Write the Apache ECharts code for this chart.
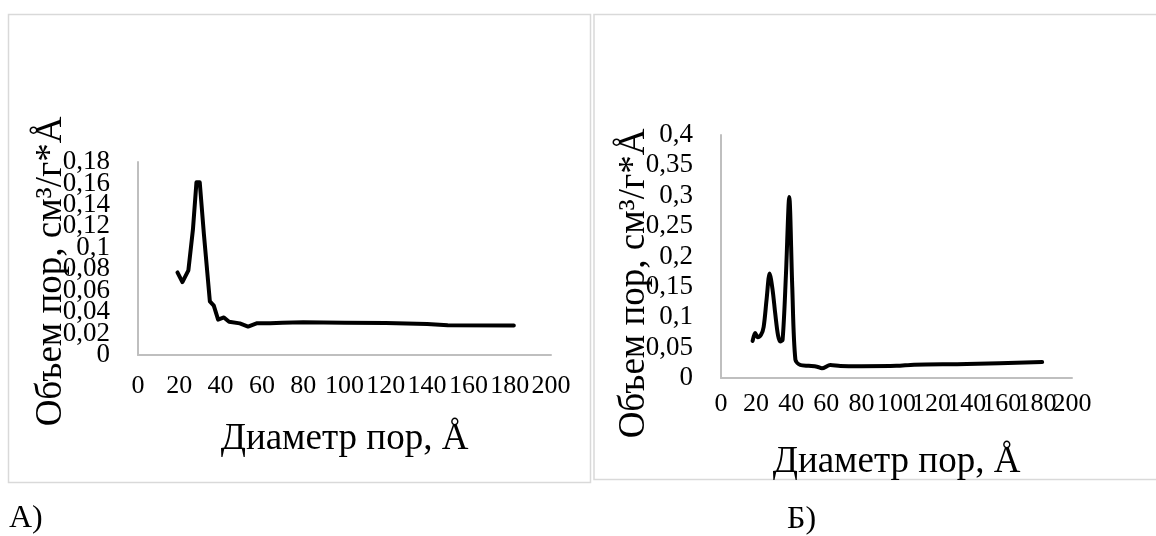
<!DOCTYPE html>
<html>
<head>
<meta charset="utf-8">
<script src="https://cdn.jsdelivr.net/npm/echarts@6/dist/echarts.min.js"></script>
<style>
  html, body { margin: 0; padding: 0; background: #fff; }
  #chart { width: 1156px; height: 536px; }
</style>
</head>
<body>
<div id="chart"></div>
<script>
  // А) диаметр пор, Å / объем пор
  const poreA = [19.1, 21.5, 24.4, 26.6, 28.3, 29.9, 31.9, 34.8, 36.7, 38.8, 41.6, 44.1, 49.3, 53.3, 57.4, 64, 70, 80, 100, 120, 140, 150, 182]
  const volA = [0.077, 0.068, 0.079, 0.117, 0.161, 0.161, 0.113, 0.05, 0.046, 0.033, 0.035, 0.031, 0.0295, 0.0265, 0.0295, 0.0295, 0.030, 0.0305, 0.030, 0.0298, 0.029, 0.0278, 0.0275]
  // Б)
  const poreB = [18, 19.5, 20.9, 22.8, 24.3, 26, 27.7, 29.4, 30.9, 32.5, 33.8, 35.1, 37, 38.9, 40.6, 42.4, 45.2, 50, 54.7, 57.5, 62.3, 68, 80, 100, 110, 140, 183]
  const volB = [0.061, 0.074, 0.067, 0.071, 0.084, 0.13, 0.172, 0.145, 0.106, 0.07, 0.06, 0.063, 0.17, 0.298, 0.15, 0.03, 0.0214, 0.02, 0.0186, 0.016, 0.0214, 0.0198, 0.0195, 0.020, 0.022, 0.023, 0.0263]

  const xTickStep = 20
  const xMax = 200
  const yMaxA = 0.18, yStepA = 0.02
  const yMaxB = 0.4, yStepB = 0.05

  const xName = 'Диаметр пор, Å'
  const yName = 'Объем пор, см³/г*Å'
  const font = "'Liberation Serif', 'Times New Roman', serif"

  const commaFmt = (v) => String(+v.toFixed(3)).replace('.', ',')
  // labels overlap in the original, so split them over two stacked axes (even / odd ticks)
  const pick = (step, parity, fmt) => (v) => (Math.round(v / step) % 2 === parity ? fmt(v) : '')

  const makeX = (gridIndex, margin, parity, withName) => ({
    type: 'value',
    gridIndex,
    position: 'bottom',
    offset: 0,
    min: 0,
    max: xMax,
    interval: xTickStep,
    name: withName ? xName : '',
    nameLocation: 'middle',
    nameGap: 66,
    nameMoveOverlap: false,
    nameTextStyle: { fontFamily: font, fontSize: 37, color: '#000' },
    axisLine: { show: withName, lineStyle: { color: '#bfbfbf', width: 2 } },
    axisTick: { show: false },
    splitLine: { show: false },
    axisLabel: {
      fontFamily: font, fontSize: 26, color: '#000', margin,
      hideOverlap: false, showMinLabel: true, showMaxLabel: true,
      formatter: pick(xTickStep, parity, (v) => String(v)),
    },
  })

  const makeY = (gridIndex, max, step, gap, shift, parity, withName) => ({
    type: 'value',
    gridIndex,
    position: 'left',
    offset: 0,
    min: 0,
    max,
    interval: step,
    name: withName ? yName : '',
    nameLocation: 'middle',
    nameRotate: 90,
    nameGap: gap,
    nameMoveOverlap: false,
    nameTextStyle: { fontFamily: font, fontSize: 37, color: '#000', padding: [0, shift * 2, 0, 0] },
    axisLine: { show: withName, lineStyle: { color: '#bfbfbf', width: 2 } },
    axisTick: { show: false },
    splitLine: { show: false },
    axisLabel: {
      fontFamily: font, fontSize: 27, color: '#000', margin: 28,
      hideOverlap: false, showMinLabel: true, showMaxLabel: true,
      formatter: pick(step, parity, commaFmt),
    },
  })

  const lineStyle = { color: '#000', width: 4, cap: 'round', join: 'round' }

  const options = {
    animation: false,
    backgroundColor: '#fff',
    grid: [
      { left: 138, top: 162, width: 413, height: 193 },
      { left: 721, top: 135, width: 351, height: 243 },
    ],
    xAxis: [
      makeX(0, 18, 0, true), makeX(1, 13, 0, true),
      makeX(0, 18, 1, false), makeX(1, 13, 1, false),
    ],
    yAxis: [
      makeY(0, yMaxA, yStepA, 68, 13, 0, true), makeY(1, yMaxB, yStepB, 68, 27, 0, true),
      makeY(0, yMaxA, yStepA, 68, 13, 1, false), makeY(1, yMaxB, yStepB, 68, 27, 1, false),
    ],
    series: [
      {
        type: 'line',
        xAxisIndex: 0,
        yAxisIndex: 0,
        data: poreA.map((d, i) => [d, volA[i]]),
        showSymbol: false,
        lineStyle,
      },
      {
        type: 'line',
        xAxisIndex: 1,
        yAxisIndex: 1,
        data: poreB.map((d, i) => [d, volB[i]]),
        showSymbol: false,
        smooth: 0.3,
        lineStyle,
      },
    ],
    graphic: [
      { type: 'rect', shape: { x: 8.5, y: 14.5, width: 582, height: 468 }, style: { fill: 'none', stroke: '#d9d9d9', lineWidth: 1.5 }, z: -1 },
      { type: 'rect', shape: { x: 594, y: 14.5, width: 580, height: 465 }, style: { fill: 'none', stroke: '#d9d9d9', lineWidth: 1.5 }, z: -1 },
      { type: 'text', left: 9, top: 503, style: { text: 'А)', font: '32px ' + font, fill: '#000' } },
      { type: 'text', left: 787, top: 504, style: { text: 'Б)', font: '32px ' + font, fill: '#000' } },
    ],
  }

  const chart = echarts.init(document.getElementById('chart'))
  chart.setOption(options)
  window.addEventListener('resize', function () {
    chart && chart.resize()
  })
</script>
</body>
</html>
